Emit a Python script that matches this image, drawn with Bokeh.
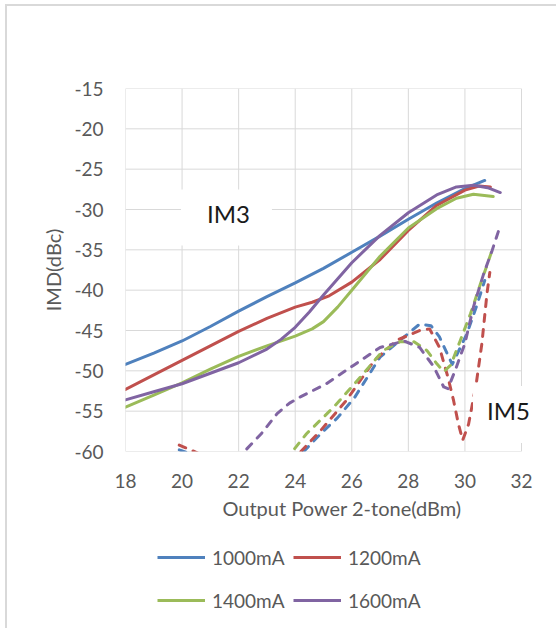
from bokeh.plotting import figure
from bokeh.layouts import column
from bokeh.models import FixedTicker, Legend, LegendItem, Label, Range1d
from bokeh.embed import file_html
from bokeh.resources import INLINE

# Axis ticks
x_ticks = [18, 20, 22, 24, 26, 28, 30, 32]
x_tick_labels = ["18", "20", "22", "24", "26", "28", "30", "32"]
y_ticks = [-15, -20, -25, -30, -35, -40, -45, -50, -55, -60]
y_tick_labels = ["-15", "-20", "-25", "-30", "-35", "-40", "-45", "-50", "-55", "-60"]

# Bias currents
currents = ["1000mA", "1200mA", "1400mA", "1600mA"]

# IM3 (solid) vs output power
im3_1000_x = [18, 19, 20, 21, 22, 23, 24, 25, 26, 27, 28, 29, 30, 30.7]
im3_1000_y = [-49.2, -47.8, -46.3, -44.5, -42.6, -40.8, -39.1, -37.3, -35.3, -33.3,
              -31.2, -29.2, -27.4, -26.4]

im3_1200_x = [18, 19, 20, 21, 22, 23, 24, 24.6, 25.2, 26, 27, 28, 29, 30, 30.5, 30.9]
im3_1200_y = [-52.3, -50.5, -48.7, -46.9, -45.1, -43.5, -42.1, -41.5, -40.7, -39.0,
              -36.2, -32.6, -29.5, -27.6, -27.1, -27.2]

im3_1400_x = [18, 19, 20, 21, 22, 23, 24, 24.6, 25, 25.5, 26, 27, 28, 29, 29.7, 30.3, 31]
im3_1400_y = [-54.5, -53.0, -51.5, -49.8, -48.2, -46.9, -45.7, -44.8, -43.9, -42.1,
              -40.0, -35.8, -32.3, -29.9, -28.6, -28.1, -28.4]

im3_1600_x = [18, 19, 20, 21, 22, 23, 23.5, 24, 24.5, 25, 26, 27, 28, 29, 29.7, 30.3,
              30.8, 31.25]
im3_1600_y = [-53.6, -52.6, -51.6, -50.3, -49.0, -47.3, -46.1, -44.6, -42.7, -40.6,
              -36.6, -33.2, -30.4, -28.2, -27.2, -27.0, -27.3, -27.9]

# IM5 (dashed) vs output power
im5_1000_x = [19.9, 20.3, 21.5, 22.5, 23.5, 24.3, 24.9, 25.5, 26.1, 27.0, 27.85, 28.4,
              28.8, 29.1, 29.55, 30.07, 30.4, 30.7]
im5_1000_y = [-59.8, -60.3, -62.0, -63.0, -62.0, -60.0, -57.8, -55.8, -53.3, -48.3,
              -45.8, -44.2, -44.4, -45.8, -49.2, -45.4, -42.1, -38.8]

im5_1200_x = [19.9, 20.5, 21.5, 22.5, 23.5, 24.2, 24.9, 25.8, 26.8, 27.6, 28.4, 28.75,
              29.1, 29.4, 29.6, 29.77, 29.92, 30.13, 30.4, 30.6, 30.78, 30.88]
im5_1200_y = [-59.2, -60.1, -62.0, -63.0, -62.0, -60.0, -57.4, -53.7, -48.7, -46.2,
              -45.0, -44.8, -47.1, -50.8, -53.7, -56.6, -58.6, -56.6, -51.6, -46.6,
              -40.4, -37.8]

im5_1400_x = [23.3, 23.9, 24.4, 25.36, 26.3, 27.1, 27.7, 28.2, 28.66, 29.0, 29.25, 29.5,
              29.84, 30.2, 30.55, 30.84, 31.0]
im5_1400_y = [-62.5, -60.0, -57.8, -54.5, -50.8, -47.5, -46.4, -46.4, -47.5, -49.1,
              -50.1, -49.3, -46.2, -42.9, -39.2, -36.3, -34.6]

im5_1600_x = [21.6, 22.2, 22.8, 23.36, 23.8, 24.2, 25.1, 26.07, 27.0, 27.85, 28.4, 28.9,
              29.25, 29.4, 29.66, 30.0, 30.3, 30.66, 30.96, 31.25]
im5_1600_y = [-62.5, -60.0, -57.8, -55.3, -54.0, -53.2, -51.6, -49.3, -47.1, -46.3,
              -47.1, -49.5, -52.0, -52.2, -49.9, -46.6, -42.1, -38.0, -35.1, -32.0]

colors = ["#4F81BD", "#C0504D", "#9BBB59", "#8064A2"]
grid_color = "#d9d9d9"
text_color = "#595959"
font = "Lato"

x_lo, x_hi = x_ticks[0], x_ticks[-1]
y_lo, y_hi = y_ticks[-1], y_ticks[0]

im3 = [(im3_1000_x, im3_1000_y), (im3_1200_x, im3_1200_y),
       (im3_1400_x, im3_1400_y), (im3_1600_x, im3_1600_y)]
im5 = [(im5_1000_x, im5_1000_y), (im5_1200_x, im5_1200_y),
       (im5_1400_x, im5_1400_y), (im5_1600_x, im5_1600_y)]

# The frame runs on past the last x tick so that the IM5 note can overhang it;
# the grid is drawn as segments that stop at the tick limits.
p = figure(width=551, height=529, output_backend="svg", toolbar_location=None,
           x_range=Range1d(18, 33.308), y_range=Range1d(-60, -15),
           min_border_left=118, min_border_right=0,
           min_border_top=82, min_border_bottom=84,
           background_fill_color="white", border_fill_color="white")

p.outline_line_color = None
p.xgrid.visible = False
p.ygrid.visible = False

p.segment(x0=x_ticks, y0=[y_lo] * len(x_ticks), x1=x_ticks, y1=[y_hi] * len(x_ticks),
          line_color=grid_color, line_width=1)
p.segment(x0=[x_lo] * len(y_ticks), y0=y_ticks, x1=[x_hi] * len(y_ticks), y1=y_ticks,
          line_color=grid_color, line_width=1)

p.xaxis.ticker = FixedTicker(ticks=x_ticks)
p.yaxis.ticker = FixedTicker(ticks=y_ticks)
p.xaxis.major_label_overrides = {t: s for t, s in zip(x_ticks, x_tick_labels)}
p.yaxis.major_label_overrides = {t: s for t, s in zip(y_ticks, y_tick_labels)}

for ax in (p.xaxis, p.yaxis):
    ax.axis_line_color = None
    ax.major_tick_line_color = None
    ax.minor_tick_line_color = None
    ax.major_tick_out = 0
    ax.major_tick_in = 0
    ax.minor_tick_out = 0
    ax.major_label_text_font = font
    ax.major_label_text_font_size = "19px"
    ax.major_label_text_color = text_color
    ax.axis_label_text_font = font
    ax.axis_label_text_font_size = "20px"
    ax.axis_label_text_color = text_color
    ax.axis_label_text_font_style = "normal"

p.xaxis.axis_label = "Output Power 2-tone(dBm)"
p.yaxis.axis_label = "IMD(dBc)"
p.xaxis.major_label_standoff = 22
p.xaxis.axis_label_standoff = 5
p.yaxis.major_label_standoff = 22
p.yaxis.axis_label_standoff = 6

for (xs, ys), c in zip(im3, colors):
    p.line(xs, ys, line_color=c, line_width=3, line_join="round", line_cap="round")

for (xs, ys), c in zip(im5, colors):
    p.line(xs, ys, line_color=c, line_width=3, line_join="round", line_cap="round",
           line_dash="7 8")

p.add_layout(Label(x=21.57, y=-31.0, text="IM3", text_font=font, text_font_size="24px",
                   text_color="#1a1a1a", text_align="center", text_baseline="middle",
                   background_fill_color="white", padding=(26, 22, 9, 18)))
p.add_layout(Label(x=31.61, y=-55.4, text="IM5", text_font=font, text_font_size="24px",
                   text_color="#1a1a1a", text_align="center", text_baseline="middle",
                   background_fill_color="white", padding=(14, 18, 10, 18)))

# Legend strip under the chart. Its frame lines up with the chart frame above;
# the IM3 series are drawn here too, outside this strip's ranges, only to feed
# the legend keys.
lg = figure(width=551, height=95, output_backend="svg", toolbar_location=None,
            x_range=Range1d(0, 1), y_range=Range1d(0, 1),
            x_axis_type=None, y_axis_type=None, min_border=0,
            background_fill_color="white", border_fill_color="white")
lg.outline_line_color = None
lg.grid.visible = False

keys = [lg.line(xs, ys, line_color=c, line_width=3) for (xs, ys), c in zip(im3, colors)]
legend = Legend(items=[LegendItem(label=n, renderers=[r]) for n, r in zip(currents, keys)],
                location=(32, 11), orientation="horizontal", ncols=2,
                glyph_width=48, glyph_height=38, label_standoff=7, label_width=76,
                spacing=5, padding=0, margin=0,
                border_line_color=None, background_fill_alpha=0,
                label_text_font=font, label_text_font_size="19px",
                label_text_color=text_color)
lg.add_layout(legend)

page = column(p, lg, spacing=0, margin=(6, 0, 0, 7),
              styles={"box-shadow": "-2px -2px 0 0 #d9d9d9"})

open("out.html", "w").write(file_html(page, INLINE))
